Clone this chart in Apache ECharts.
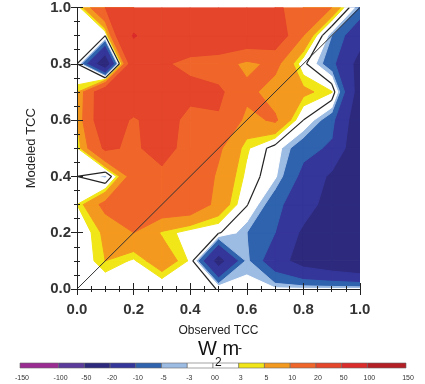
<!DOCTYPE html>
<html>
<head>
<meta charset="utf-8">
<script src="https://cdn.jsdelivr.net/npm/echarts@6/dist/echarts.min.js"></script>
<style>
  html, body { margin: 0; padding: 0; background: #fff; }
  #chart { width: 425px; height: 384px; }
</style>
</head>
<body>
<div id="chart"></div>
<script>
// TCC grid (observed on x, modeled on y)
var tcc = [0, 0.1, 0.2, 0.3, 0.4, 0.5, 0.6, 0.7, 0.8, 0.9, 1.0];

// CRE difference (W m-2), one row per modeled TCC, x = observed TCC
var cre00 = [0, 0, 0, 0, 2, -0.2, -2, -2.5, -2.5, -2.5, -2.5];
var cre01 = [0, 5, 2.5, 8, 2.5, -25, -4, -15, -25, -30, -35];
var cre02 = [0, 6, 10, 4.5, 1.5, 0.5, -5, -10, -22, -30, -40];
var cre03 = [3, 12, 15, 15, 15, 8, 0.3, -8, -15, -25, -40];
var cre04 = [0, -4, 14, 17, 16, 9, 2.2, -2.5, -12, -22, -35];
var cre05 = [2.5, 22, 18, 25, 15, 11, 3.5, -1.5, -8, -11, -30];
var cre06 = [5, 30, 18, 28, 15, 19, 8, 11, 0, -8, -28];
var cre07 = [4, 30, 35, 30, 25, 22, 12, 7, 6, 3.3, -26];
var cre08 = [0, -30, 30, 22, 16, 14, 8, 12, 1, -8, -24];
var cre09 = [1, 0, 52, 35, 32, 32, 30, 28, 10, -5, -16];
var cre10 = [1, 20, 30, 30, 30, 30, 28, 22, 15, 10, -6];
var rows = [cre00, cre01, cre02, cre03, cre04, cre05, cre06, cre07, cre08, cre09, cre10];

var levels = [-150, -100, -50, -20, -10, -5, -3, 0, 3, 5, 10, 20, 50, 100, 150];
var levelLabels = ['-150', '-100', '-50', '-20', '-10', '-5', '-3', '00', '3', '5', '10', '20', '50', '100', '150'];
var bandColors = ['#9b2d92', '#5b3b9b', '#2d2a7e', '#35369a', '#2f63ae', '#9dbce4', '#ffffff', '#ffffff',
                  '#f1e617', '#f4991f', '#f0662a', '#e4452b', '#db2b2b', '#b41f26'];
var diagX = [0, 1];
var diagY = [0, 1];

function clipAbove(pts, lv) {
  var out = [];
  for (var i = 0; i < pts.length; i++) {
    var a = pts[i], b = pts[(i + 1) % pts.length];
    var ina = a.v >= lv, inb = b.v >= lv;
    if (ina) out.push(a);
    if (ina !== inb) {
      var t = (lv - a.v) / (b.v - a.v);
      out.push({ x: a.x + t * (b.x - a.x), y: a.y + t * (b.y - a.y), v: lv });
    }
  }
  return out;
}

function cellAt(i, j) {
  return [
    { x: tcc[i], y: tcc[j], v: rows[j][i] },
    { x: tcc[i + 1], y: tcc[j], v: rows[j][i + 1] },
    { x: tcc[i + 1], y: tcc[j + 1], v: rows[j + 1][i + 1] },
    { x: tcc[i], y: tcc[j + 1], v: rows[j + 1][i] }
  ];
}

// filled bands, painted from the lowest level upwards
var fills = [];
var zeroSegs = [];
for (var j = 0; j < tcc.length - 1; j++) {
  for (var i = 0; i < tcc.length - 1; i++) {
    var cell = cellAt(i, j);
    var vmin = Math.min(cell[0].v, cell[1].v, cell[2].v, cell[3].v);
    for (var k = 0; k < bandColors.length; k++) {
      if (k < bandColors.length - 1 && vmin >= levels[k + 1]) continue;
      var poly = k === 0 ? cell : clipAbove(cell, levels[k]);
      if (poly.length < 3) break;
      fills.push({ pts: poly.map(function (p) { return [p.x, p.y]; }), c: k });
    }
    // zero contour line
    var cr = [];
    for (var e = 0; e < 4; e++) {
      var a = cell[e], b = cell[(e + 1) % 4];
      if ((a.v >= 0) !== (b.v >= 0)) {
        var t = (0 - a.v) / (b.v - a.v);
        cr.push([a.x + t * (b.x - a.x), a.y + t * (b.y - a.y)]);
      }
    }
    if (cr.length === 2) {
      zeroSegs.push([cr[0][0], cr[0][1], cr[1][0], cr[1][1]]);
    } else if (cr.length === 4) {
      var c = (cell[0].v + cell[1].v + cell[2].v + cell[3].v) / 4;
      if ((c >= 0) === (cell[0].v >= 0)) {
        zeroSegs.push([cr[0][0], cr[0][1], cr[1][0], cr[1][1]]);
        zeroSegs.push([cr[2][0], cr[2][1], cr[3][0], cr[3][1]]);
      } else {
        zeroSegs.push([cr[3][0], cr[3][1], cr[0][0], cr[0][1]]);
        zeroSegs.push([cr[1][0], cr[1][1], cr[2][0], cr[2][1]]);
      }
    }
  }
}
fills.sort(function (p, q) { return p.c - q.c; });

// colour bar: unit-width boxes, the two end boxes one and a half wide
var cbLast = levels.length - 1;
function cbPos(n) { return n === 0 ? -0.5 : (n === cbLast ? cbLast + 0.5 : n); }
var cbBoxes = bandColors.map(function (col, n) { return [cbPos(n), cbPos(n + 1), n]; });
var cbTicks = levelLabels.map(function (lab, n) { return [cbPos(n), 0, n]; });

var frame = { lineStyle: { color: '#222', width: 1 } };
var tickIn = { show: true, inside: true, length: 6, lineStyle: { color: '#222' } };
var minorIn = { show: true, splitNumber: 4, length: 3, lineStyle: { color: '#222' } };
var tickFont = { fontFamily: 'Liberation Sans', fontSize: 15, fontWeight: 'bold', color: '#333' };

var chart = echarts.init(document.getElementById('chart'), null, { renderer: 'canvas' });
chart.setOption({
  animation: false,
  backgroundColor: '#fff',
  grid: [
    { left: 77, top: 5, width: 283, height: 284 },
    { left: 20, top: 363, width: 386, height: 5 }
  ],
  xAxis: [
    {
      type: 'value', gridIndex: 0, min: 0, max: 1, interval: 0.2, position: 'bottom', z: 10,
      axisLine: frame, axisTick: tickIn, minorTick: minorIn, splitLine: { show: false },
      axisLabel: Object.assign({ margin: 13, formatter: function (v) { return v.toFixed(1); } }, tickFont),
      name: 'Observed TCC', nameLocation: 'middle', nameGap: 36,
      nameTextStyle: { fontFamily: 'Liberation Sans', fontSize: 12, color: '#222' }
    },
    {
      type: 'value', gridIndex: 0, min: 0, max: 1, interval: 0.2, position: 'top', z: 10,
      axisLine: frame, axisTick: tickIn, minorTick: minorIn, splitLine: { show: false },
      axisLabel: { show: false }
    },
    { type: 'value', gridIndex: 1, min: -0.5, max: cbLast + 0.5, show: false }
  ],
  yAxis: [
    {
      type: 'value', gridIndex: 0, min: 0, max: 1, interval: 0.2, position: 'left', z: 10,
      axisLine: frame, axisTick: tickIn, minorTick: minorIn, splitLine: { show: false },
      axisLabel: Object.assign({ margin: 6, formatter: function (v) { return v.toFixed(1); } }, tickFont),
      name: 'Modeled TCC', nameLocation: 'middle', nameGap: 39,
      nameTextStyle: { fontFamily: 'Liberation Sans', fontSize: 13, color: '#222' }
    },
    {
      type: 'value', gridIndex: 0, min: 0, max: 1, interval: 0.2, position: 'right', z: 10,
      axisLine: frame, axisTick: tickIn, minorTick: minorIn, splitLine: { show: false },
      axisLabel: { show: false }
    },
    { type: 'value', gridIndex: 1, min: 0, max: 1, show: false }
  ],
  graphic: [
    { type: 'text', left: 198, top: 339, style: { text: 'W m', font: '20px "Liberation Sans"', fill: '#111' } },
    { type: 'text', left: 238, top: 343, style: { text: '-', font: '12px "Liberation Sans"', fill: '#111' } },
    { type: 'text', left: 215, top: 357, style: { text: '2', font: '12px "Liberation Sans"', fill: '#111' }, z: 100 }
  ],
  series: [
    {
      type: 'custom', xAxisIndex: 0, yAxisIndex: 0, clip: true, z: 1,
      data: fills.map(function (f, n) { return [f.pts[0][0], f.pts[0][1], n]; }),
      encode: { x: 0, y: 1 },
      renderItem: function (params, api) {
        var f = fills[api.value(2)];
        var col = bandColors[f.c];
        return {
          type: 'polygon',
          shape: { points: f.pts.map(function (p) { return api.coord(p); }) },
          style: { fill: col, stroke: col, lineWidth: 1 }
        };
      }
    },
    {
      type: 'custom', xAxisIndex: 0, yAxisIndex: 0, clip: true, z: 3,
      data: zeroSegs,
      encode: { x: [0, 2], y: [1, 3] },
      renderItem: function (params, api) {
        var p1 = api.coord([api.value(0), api.value(1)]);
        var p2 = api.coord([api.value(2), api.value(3)]);
        return {
          type: 'line',
          shape: { x1: p1[0], y1: p1[1], x2: p2[0], y2: p2[1] },
          style: { stroke: '#222', lineWidth: 1.2 }
        };
      }
    },
    {
      type: 'line', xAxisIndex: 0, yAxisIndex: 0, z: 4, symbol: 'none',
      data: diagX.map(function (x, n) { return [x, diagY[n]]; }),
      lineStyle: { color: '#333', width: 1 }
    },
    {
      type: 'custom', xAxisIndex: 2, yAxisIndex: 2, z: 2,
      data: cbBoxes,
      encode: { x: [0, 1] },
      renderItem: function (params, api) {
        var a = api.coord([api.value(0), 1]);
        var b = api.coord([api.value(1), 0]);
        return {
          type: 'rect',
          shape: { x: a[0], y: a[1], width: b[0] - a[0], height: b[1] - a[1] },
          style: { fill: bandColors[api.value(2)], stroke: '#666', lineWidth: 0.6 }
        };
      }
    },
    {
      type: 'custom', xAxisIndex: 2, yAxisIndex: 2, z: 2,
      data: cbTicks,
      encode: { x: 0, y: 1 },
      renderItem: function (params, api) {
        var p = api.coord([api.value(0), 0]);
        return {
          type: 'text',
          x: p[0] + 2, y: p[1] + 10,
          style: {
            text: levelLabels[api.value(2)], fill: '#333',
            font: '7px "Liberation Sans"', align: 'center', verticalAlign: 'middle'
          }
        };
      }
    }
  ]
});
</script>
</body>
</html>
